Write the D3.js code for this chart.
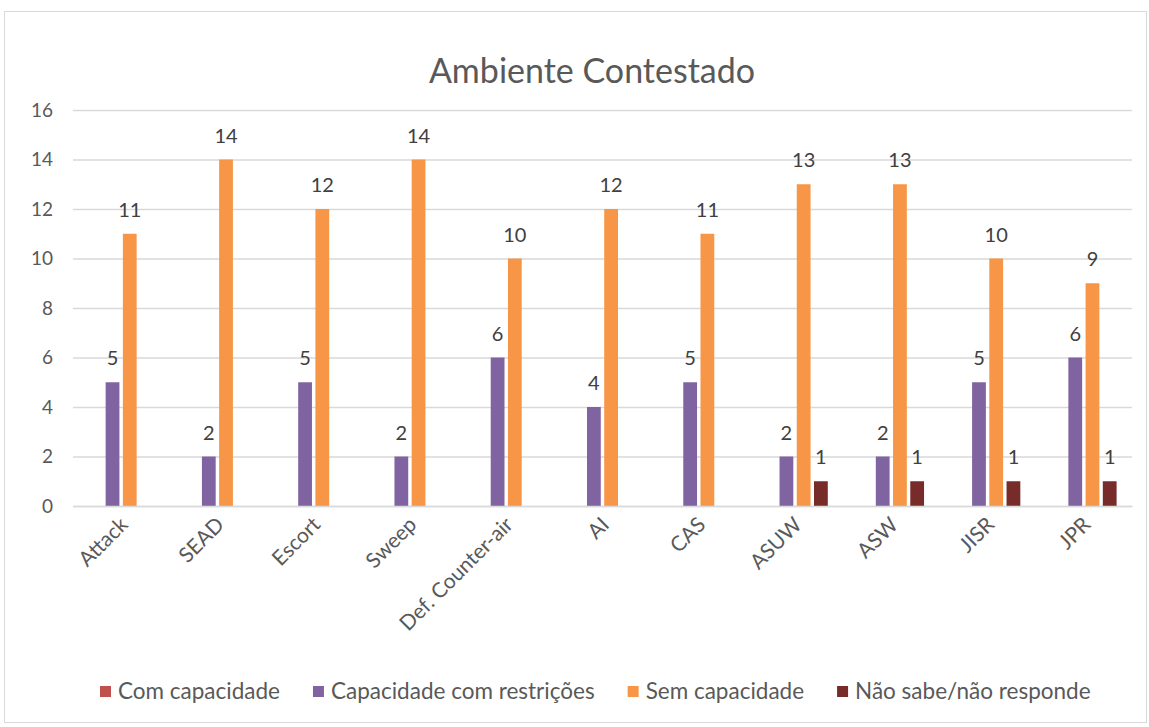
<!DOCTYPE html>
<html>
  <head>
    <meta charset="utf-8" />
    <script src="https://d3js.org/d3.v7.min.js"></script>
    <style>
      body { margin: 0; background: #fff; }
      svg { font-family: Lato, "Open Sans", sans-serif; }
      .grid line { stroke: #d9d9d9; stroke-width: 1.3; }
      .grid path { display: none; }
      .lbl { fill: #404040; font-size: 20px; }
      .tick text { fill: #595959; }
    </style>
  </head>
  <body>
    <div id="master"></div>
    <script type="text/javascript">
var width = 1149, height = 727;

var categories = ["Attack", "SEAD", "Escort", "Sweep", "Def. Counter-air", "AI", "CAS", "ASUW", "ASW", "JISR", "JPR"];
var seriesNames = ["Com capacidade", "Capacidade com restrições", "Sem capacidade", "Não sabe/não responde"];
var seriesColors = ["#C0504D", "#8064A2", "#F79646", "#772C2A"];
var comCapacidade = [0, 0, 0, 0, 0, 0, 0, 0, 0, 0, 0];
var comRestricoes = [5, 2, 5, 2, 6, 4, 5, 2, 2, 5, 6];
var semCapacidade = [11, 14, 12, 14, 10, 12, 11, 13, 13, 10, 9];
var naoSabe = [0, 0, 0, 0, 0, 0, 0, 1, 1, 1, 1];
var yTicks = [0, 2, 4, 6, 8, 10, 12, 14, 16];

var series = [comCapacidade, comRestricoes, semCapacidade, naoSabe];

var svg = d3.select("#master").append("svg")
  .attr("width", width)
  .attr("height", height);

// chart frame
svg.append("rect")
  .attr("x", 4.5).attr("y", 11.5)
  .attr("width", 1142).attr("height", 711)
  .attr("fill", "none").attr("stroke", "#d9d9d9");

// plot area (don't call it "top", that's window.top)
var pLeft = 73, pRight = 1132, pTop = 110, pBottom = 506;

var x = d3.scaleBand().domain(categories).range([pLeft, pRight]).paddingInner(0).paddingOuter(0);
var x1 = d3.scaleBand().domain(d3.range(series.length)).range([x.bandwidth() * 0.16, x.bandwidth() * 0.84]).paddingInner(0.2);
var y = d3.scaleLinear().domain([0, 16]).range([pBottom, pTop]);

// gridlines + y labels
svg.append("g")
  .attr("class", "grid")
  .attr("transform", "translate(" + pLeft + ",0)")
  .call(d3.axisLeft(y).tickValues(yTicks).tickSize(-(pRight - pLeft)).tickPadding(20))
  .call(function(g) {
    g.selectAll("text").attr("font-size", 19).attr("font-family", "Lato, 'Open Sans', sans-serif");
  });

// bars
var groups = svg.append("g").selectAll("g")
  .data(categories)
  .enter().append("g")
  .attr("transform", function(d) { return "translate(" + x(d) + ",0)"; });

function rowOf(d, i) {
  return series.map(function(s, k) { return {k: k, v: s[i]}; }).filter(function(e) { return e.v > 0; });
}

groups.selectAll("rect")
  .data(rowOf)
  .enter().append("rect")
  .attr("x", function(d) { return x1(d.k); })
  .attr("width", x1.bandwidth())
  .attr("y", function(d) { return y(d.v); })
  .attr("height", function(d) { return y(0) - y(d.v); })
  .attr("fill", function(d) { return seriesColors[d.k]; });

groups.selectAll("text")
  .data(rowOf)
  .enter().append("text")
  .attr("class", "lbl")
  .attr("text-anchor", "middle")
  .attr("x", function(d) { return x1(d.k) + x1.bandwidth() / 2; })
  .attr("y", function(d) { return y(d.v) - 17; })
  .text(function(d) { return d.v; });

// x axis labels
var xAxis = svg.append("g")
  .attr("transform", "translate(0," + pBottom + ")")
  .call(d3.axisBottom(x).tickSize(0).tickPadding(0));
xAxis.select(".domain").attr("stroke", "#d9d9d9").attr("stroke-width", 1.3);
xAxis.selectAll("text")
  .attr("font-size", 21)
  .attr("font-family", "Lato, 'Open Sans', sans-serif")
  .attr("text-anchor", "end")
  .attr("dy", 0)
  .attr("transform", "translate(8,20) rotate(-45)");

// title
svg.append("text")
  .attr("x", 592).attr("y", 83)
  .attr("text-anchor", "middle")
  .attr("font-size", 34)
  .attr("fill", "#595959")
  .text("Ambiente Contestado");

// legend
var legend = svg.append("g").attr("transform", "translate(100,691)");
var lx = 0;
seriesNames.forEach(function(name, i) {
  var item = legend.append("g").attr("transform", "translate(" + lx + ",0)");
  item.append("rect").attr("x", 0).attr("y", -5).attr("width", 11).attr("height", 11).attr("fill", seriesColors[i]);
  var t = item.append("text").attr("x", 18).attr("y", 0).attr("dy", "0.35em")
    .attr("font-size", 22.5).attr("fill", "#595959").text(name);
  lx += 18 + t.node().getComputedTextLength() + 33;
});
    </script>
  </body>
</html>
